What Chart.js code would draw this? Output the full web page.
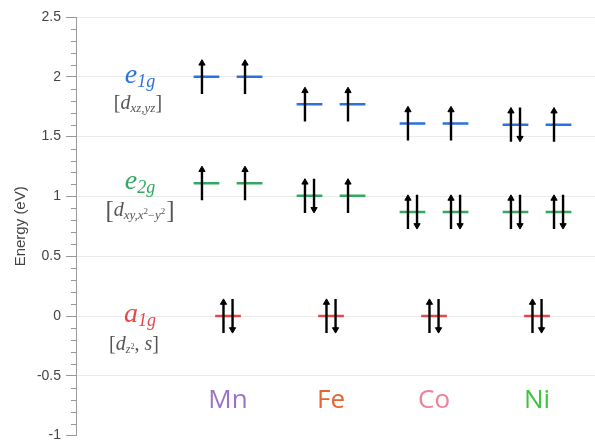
<!DOCTYPE html>
<html>
<head>
<meta charset="utf-8">
<script src="https://cdn.jsdelivr.net/npm/chart.js@4"></script>
<style>
  html, body { margin: 0; padding: 0; background: #fff; overflow: hidden; }
  #wrap { width: 595px; height: 440px; overflow: hidden; }
</style>
</head>
<body>
<div id="wrap"><canvas id="levelChart" width="595" height="449"></canvas></div>
<script>
// dữ liệu
const elements = ['Mn', 'Fe', 'Co', 'Ni'];
const elementColors = ['#9b72c9', '#e2652f', '#ee8199', '#3fc43f'];
const e1gEnergy = [2.0, 1.77, 1.61, 1.60];
const e2gEnergy = [1.11, 1.005, 0.87, 0.87];
const a1gEnergy = [0, 0, 0, 0];
// số electron trên mỗi orbital (2 orbital cho e1g, e2g)
const e1gOcc = [[1, 1], [1, 1], [1, 1], [2, 1]];
const e2gOcc = [[1, 1], [2, 1], [2, 2], [2, 2]];
const a1gOcc = [[2], [2], [2], [2]];
const yTicksMajor = [-1, -0.5, 0, 0.5, 1, 1.5, 2, 2.5];

const BLUE = '#2a72de';
const GREEN = '#33a860';
const RED = '#e8474a';

// hình học (đơn vị trục)
const ORB_OFF = 0.209;
const HALF_W = 0.125;
const SPIN_OFF = 0.044;
const ARROW_TAIL = 0.143;
const ARROW_HEAD = 0.113;

function levelData(energies, nOrb) {
    const pts = [];
    energies.forEach((e, i) => {
        const offs = nOrb === 2 ? [-ORB_OFF, ORB_OFF] : [0];
        offs.forEach(o => {
            const c = i + 1 + o;
            pts.push({ x: c - HALF_W, y: e }, { x: c + HALF_W, y: e }, { x: c, y: null });
        });
    });
    return pts;
}

const upPts = [];
const downPts = [];
function addSpins(energies, occ, nOrb) {
    energies.forEach((e, i) => {
        const offs = nOrb === 2 ? [-ORB_OFF, ORB_OFF] : [0];
        offs.forEach((o, j) => {
            const c = i + 1 + o;
            const n = occ[i][j];
            if (n >= 1) {
                upPts.push({ x: c - SPIN_OFF, y: e - ARROW_TAIL }, { x: c - SPIN_OFF, y: e + ARROW_HEAD, tip: true }, { x: c, y: null });
            }
            if (n >= 2) {
                downPts.push({ x: c + SPIN_OFF, y: e + ARROW_TAIL }, { x: c + SPIN_OFF, y: e - ARROW_HEAD, tip: true }, { x: c, y: null });
            }
        });
    });
}
addSpins(e1gEnergy, e1gOcc, 2);
addSpins(e2gEnergy, e2gOcc, 2);
addSpins(a1gEnergy, a1gOcc, 1);

function isMajor(v) {
    return Math.abs(v * 2 - Math.round(v * 2)) < 1e-6;
}

// vẽ chuỗi chữ kiểu công thức, canh giữa
function drawRuns(ctx, runs, cx, cy) {
    let total = 0;
    runs.forEach(r => {
        ctx.font = (r.italic ? 'italic ' : '') + r.size + 'px "Liberation Serif", serif';
        r.w = ctx.measureText(r.t).width + (r.gap || 0);
        total += r.w;
    });
    let x = cx - total / 2;
    ctx.textBaseline = 'alphabetic';
    ctx.textAlign = 'left';
    runs.forEach(r => {
        ctx.font = (r.italic ? 'italic ' : '') + r.size + 'px "Liberation Serif", serif';
        ctx.fillStyle = r.color;
        ctx.fillText(r.t, x, cy + (r.dy || 0));
        x += r.w;
    });
}

const labelPlugin = {
    id: 'levelLabels',
    afterDatasetsDraw(chart) {
        const ctx = chart.ctx;
        const xs = chart.scales.x;
        const ys = chart.scales.y;
        ctx.save();
        const lx = xs.getPixelForValue(0.145);
        const G = '#555';

        // e1g
        let y = ys.getPixelForValue(e1gEnergy[0]);
        drawRuns(ctx, [
            { t: 'e', size: 28, italic: true, color: BLUE },
            { t: '1g', size: 18, italic: true, color: BLUE, dy: 4 }
        ], lx, y + 6);
        drawRuns(ctx, [
            { t: '[', size: 20, color: G },
            { t: 'd', size: 20, italic: true, color: G },
            { t: 'xz,yz', size: 13, italic: true, color: G, dy: 3 },
            { t: ']', size: 20, color: G }
        ], lx - 2, y + 32);

        // e2g
        y = ys.getPixelForValue(e2gEnergy[0]);
        drawRuns(ctx, [
            { t: 'e', size: 28, italic: true, color: GREEN },
            { t: '2g', size: 18, italic: true, color: GREEN, dy: 4 }
        ], lx, y + 6);
        drawRuns(ctx, [
            { t: '[', size: 25, color: G, dy: 2 },
            { t: 'd', size: 20, italic: true, color: G },
            { t: 'xy,x', size: 13, italic: true, color: G, dy: 3 },
            { t: '2', size: 9, color: G, dy: -2 },
            { t: '\u2212', size: 12, color: G, dy: 3 },
            { t: 'y', size: 13, italic: true, color: G, dy: 3 },
            { t: '2', size: 9, color: G, dy: -2, gap: 1 },
            { t: ']', size: 25, color: G, dy: 2 }
        ], lx, y + 33);

        // a1g
        y = ys.getPixelForValue(a1gEnergy[0]);
        drawRuns(ctx, [
            { t: 'a', size: 28, italic: true, color: RED },
            { t: '1g', size: 18, italic: true, color: RED, dy: 4 }
        ], lx, y + 6);
        drawRuns(ctx, [
            { t: '[', size: 20, color: G },
            { t: 'd', size: 20, italic: true, color: G },
            { t: 'z', size: 12, italic: true, color: G, dy: 3 },
            { t: '2', size: 8, color: G, dy: -1 },
            { t: ', ', size: 20, color: G },
            { t: 's', size: 20, italic: true, color: G },
            { t: ']', size: 20, color: G }
        ], lx - 6, y + 34);

        // tên nguyên tố
        ctx.font = '26px "Open Sans", sans-serif';
        ctx.textAlign = 'center';
        ctx.textBaseline = 'middle';
        elements.forEach((el, i) => {
            ctx.fillStyle = elementColors[i];
            ctx.fillText(el, xs.getPixelForValue(i + 1), ys.getPixelForValue(-0.71));
        });

        // vạch chia phụ trên trục y
        const ax = chart.chartArea.left;
        ctx.strokeStyle = '#9a9a9a';
        ctx.lineWidth = 1;
        ys.ticks.forEach(t => {
            if (isMajor(t.value)) return;
            const py = Math.round(ys.getPixelForValue(t.value)) + 0.5;
            ctx.beginPath();
            ctx.moveTo(ax - 5, py);
            ctx.lineTo(ax, py);
            ctx.stroke();
        });
        ctx.restore();
    }
};

function levelSet(data, color) {
    return {
        data: data,
        showLine: true,
        spanGaps: false,
        borderColor: color,
        borderWidth: 2.5,
        pointRadius: 0,
        order: 2
    };
}

function spinSet(data, rot) {
    return {
        data: data,
        showLine: true,
        spanGaps: false,
        borderColor: '#000',
        backgroundColor: '#000',
        borderWidth: 2.4,
        pointStyle: 'triangle',
        pointRotation: rot,
        pointRadius: ctx => (ctx.raw && ctx.raw.tip ? 3.6 : 0),
        pointBorderWidth: 1,
        order: 1
    };
}

new Chart(document.getElementById('levelChart'), {
    type: 'scatter',
    data: {
        datasets: [
            levelSet(levelData(e1gEnergy, 2), BLUE),
            levelSet(levelData(e2gEnergy, 2), GREEN),
            levelSet(levelData(a1gEnergy, 1), RED),
            spinSet(upPts, 0),
            spinSet(downPts, 180)
        ]
    },
    options: {
        responsive: false,
        animation: false,
        layout: { padding: { left: 0, right: 0, top: 17, bottom: 6 } },
        plugins: {
            legend: { display: false },
            tooltip: { enabled: false }
        },
        scales: {
            x: {
                type: 'linear',
                min: -0.476,
                max: 4.563,
                display: false
            },
            y: {
                min: -1,
                max: 2.5,
                afterFit: function(scale) { scale.width = 76; },
                border: { display: true, color: '#9a9a9a', width: 1 },
                grid: {
                    color: ctx => (isMajor(ctx.tick.value) && ctx.tick.value > -0.9 ? '#ebebeb' : 'rgba(0,0,0,0)'),
                    tickColor: ctx => (isMajor(ctx.tick.value) ? '#9a9a9a' : 'rgba(0,0,0,0)'),
                    tickLength: 10,
                    lineWidth: 1
                },
                ticks: {
                    stepSize: 0.1,
                    autoSkip: false,
                    padding: 5,
                    color: '#444',
                    font: { family: '"Liberation Sans", Helvetica, sans-serif', size: 14 },
                    callback: function(value) {
                        if (!isMajor(value)) return '';
                        const v = Math.round(value * 10) / 10;
                        return yTicksMajor.includes(v) ? String(v) : '';
                    }
                },
                title: {
                    display: true,
                    text: 'Energy (eV)',
                    color: '#444',
                    padding: { top: 12, bottom: 0 },
                    font: { family: '"Liberation Sans", Helvetica, sans-serif', size: 15 }
                }
            }
        }
    },
    plugins: [labelPlugin]
});
</script>
</body>
</html>
